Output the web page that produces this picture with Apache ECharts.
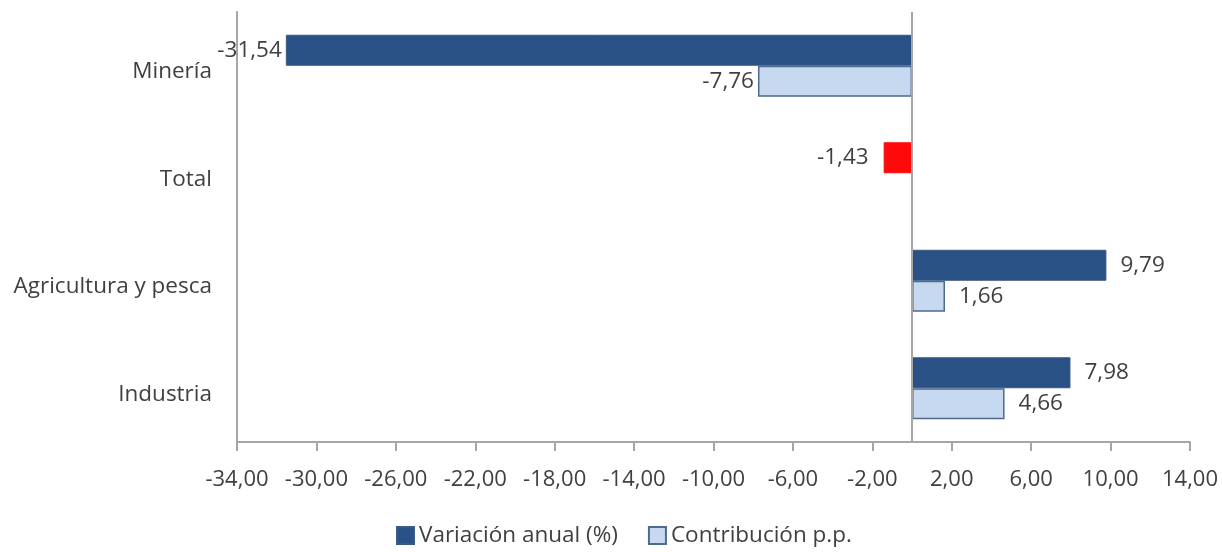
<!DOCTYPE html>
<html>
<head>
<meta charset="utf-8">
<script src="https://cdn.jsdelivr.net/npm/echarts@6/dist/echarts.min.js"></script>
<style>
html,body{margin:0;padding:0;background:#fff;}
#chart{width:1222px;height:552px;}
</style>
</head>
<body>
<div id="chart"></div>
<script>
const categories = ['Minería', 'Total', 'Agricultura y pesca', 'Industria'];
const variacionAnual = [-31.54, -1.43, 9.79, 7.98];
const contribucion = [-7.76, null, 1.66, 4.66];
const highlightCategory = 'Total';
const xTicks = [-34, -30, -26, -22, -18, -14, -10, -6, -2, 2, 6, 10, 14];

const fmt = v => v.toFixed(2).replace('.', ',');
const FONT = 'Open Sans';
const TEXT = '#404040';

const labelCfg = {
  show: true,
  fontFamily: FONT,
  fontSize: 22.5,
  color: TEXT,
  distance: 14,
  formatter: p => fmt(p.value),
  position: 'right'
};

function withPos(arr, extra) {
  return arr.map((v, i) => {
    if (v === null) return '-';
    const item = { value: v, label: v < 0 ? { position: 'left', distance: 4 } : { position: 'right' } };
    if (extra) Object.assign(item, extra(i));
    return item;
  });
}

const chart = echarts.init(document.getElementById('chart'));
chart.setOption({
  animation: false,
  grid: { left: 237, right: 32, top: 12, bottom: 110, containLabel: false },
  legend: {
    bottom: 0,
    left: 391,
    icon: 'rect',
    itemWidth: 17,
    itemHeight: 17,
    itemGap: 30,
    textStyle: { fontFamily: FONT, fontSize: 22.5, color: TEXT },
    data: ['Variación anual (%)', 'Contribución p.p.']
  },
  xAxis: {
    type: 'value',
    min: -34,
    max: 14,
    splitLine: { show: false },
    axisLine: { show: true, onZero: false, lineStyle: { color: '#A6A6A6', width: 2 } },
    axisTick: { show: true, length: 9, customValues: xTicks, lineStyle: { color: '#A6A6A6', width: 2 } },
    axisLabel: {
      customValues: xTicks,
      formatter: v => fmt(v),
      fontFamily: FONT, fontSize: 22, color: TEXT, margin: 27
    }
  },
  yAxis: {
    type: 'category',
    inverse: true,
    data: categories,
    axisLine: { show: true, onZero: false, lineStyle: { color: '#A6A6A6', width: 2 } },
    axisTick: { show: false },
    axisLabel: { fontFamily: FONT, fontSize: 22.5, color: TEXT, margin: 25, verticalAlign: 'top', lineHeight: 12 }
  },
  series: [
    {
      name: 'Variación anual (%)',
      type: 'bar',
      barWidth: 31,
      barGap: '0%',
      itemStyle: { color: '#2A5185', borderColor: '#3A5A84', borderWidth: 1 },
      label: labelCfg,
      data: withPos(variacionAnual, i => categories[i] === highlightCategory
        ? { itemStyle: { color: '#FF0A0A', borderColor: '#FF0A0A' }, label: { position: 'left', distance: 15 } }
        : {}),
      markLine: {
        silent: true,
        symbol: 'none',
        label: { show: false },
        lineStyle: { color: '#A6A6A6', width: 2, type: 'solid' },
        data: [{ xAxis: 0 }]
      }
    },
    {
      name: 'Contribución p.p.',
      type: 'bar',
      barWidth: 31,
      barGap: '0%',
      itemStyle: { color: '#C6D9F0', borderColor: '#4E6A8E', borderWidth: 1.5 },
      label: labelCfg,
      data: withPos(contribucion)
    }
  ]
});
</script>
</body>
</html>
